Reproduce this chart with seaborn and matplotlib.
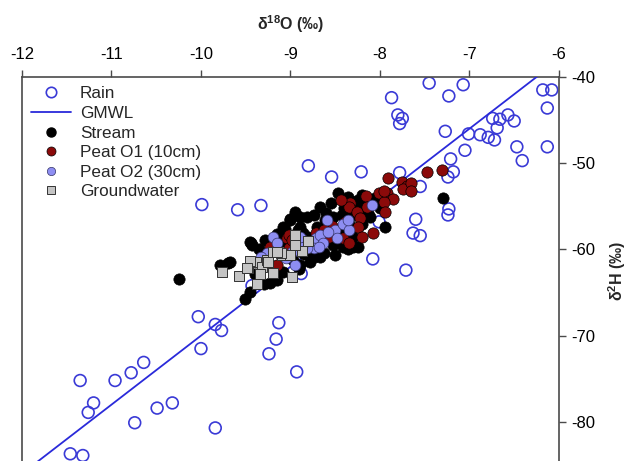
import matplotlib
matplotlib.use("Agg")
import matplotlib.pyplot as plt
import seaborn as sns
from matplotlib.lines import Line2D

# ---------------- data ----------------
rain_d18o = [-10.03, -9.84, -9.77, -10.00, -9.13, -9.16, -9.24, -8.93, -10.64, -10.78,
             -10.96, -11.35, -11.20, -11.26, -10.74, -10.49, -10.32, -9.84, -11.46, -11.32,
             -7.45, -7.07, -7.87, -7.23, -7.80, -7.75, -7.78, -6.18, -6.08, -6.13,
             -6.13, -7.27, -7.01, -6.88, -6.79, -6.72, -6.74, -6.66, -6.57, -6.50,
             -6.69, -6.47, -6.41, -7.05, -7.21, -7.18, -7.24, -7.78, -7.55, -7.23,
             -7.24, -7.60, -7.63, -7.55, -8.80, -8.54, -8.21, -9.99, -9.59, -9.33,
             -8.01, -8.08, -7.71, -8.88, -9.43]
rain_d2h = [-67.8, -68.7, -69.4, -71.5, -68.5, -70.4, -72.1, -74.2, -73.1, -74.3,
            -75.2, -75.2, -77.8, -78.9, -80.1, -78.4, -77.8, -80.7, -83.7, -83.9,
            -40.7, -40.9, -42.4, -42.2, -44.4, -44.8, -45.4, -41.5, -41.5, -43.6,
            -48.1, -46.3, -46.6, -46.7, -47.0, -47.3, -44.8, -44.9, -44.4, -45.1,
            -45.9, -48.1, -49.7, -48.5, -49.5, -51.0, -51.6, -51.1, -52.7, -55.3,
            -56.0, -56.5, -58.1, -58.4, -50.3, -51.6, -51.0, -54.8, -55.4, -54.9,
            -56.8, -61.1, -62.4, -62.8, -64.2]

gmwl_d18o = [-12.0, -6.0]
gmwl_d2h = [-86.0, -38.0]

stream_d18o = [-10.24, -9.79, -9.70, -9.68, -9.51, -9.45, -9.29, -9.44, -9.43, -9.45,
               -9.28, -9.06, -9.01, -9.08, -9.15, -9.23, -9.08, -8.89, -9.00, -8.89,
               -8.81, -8.74, -8.67, -8.55, -8.47, -8.36, -8.25, -8.28, -8.20, -8.22,
               -8.13, -8.11, -8.00, -7.94, -8.36, -8.25, -8.52, -8.63, -8.74, -8.92,
               -9.08, -8.86, -8.70, -8.61, -8.52, -8.42, -8.31, -8.19, -7.29, -8.41,
               -8.30, -8.67, -8.78, -8.89, -8.97, -9.20, -9.10, -9.00, -8.95, -8.85,
               -8.80, -8.70, -8.60, -8.55, -8.45, -8.35, -8.30, -8.20, -8.15, -8.05,
               -9.30, -9.35, -9.15, -8.95, -8.60, -8.40, -9.40, -9.20, -8.90, -8.50]
stream_d2h = [-63.4, -61.8, -61.6, -61.4, -65.8, -64.9, -64.0, -59.2, -59.5, -59.1,
              -58.9, -57.6, -56.5, -62.6, -63.5, -63.9, -57.7, -56.2, -56.6, -57.4,
              -56.2, -56.0, -55.1, -54.6, -53.4, -53.9, -54.3, -54.5, -53.7, -55.2,
              -55.8, -56.2, -55.2, -57.4, -60.0, -59.7, -59.5, -60.4, -60.9, -57.7,
              -57.4, -58.1, -57.4, -56.6, -56.2, -56.0, -56.0, -55.4, -54.0, -59.7,
              -59.7, -60.9, -61.4, -61.8, -61.2, -60.0, -59.0, -60.2, -59.3, -60.5,
              -58.6, -59.4, -58.4, -57.6, -58.0, -57.0, -58.6, -57.0, -54.6, -54.0,
              -61.0, -60.0, -58.2, -55.6, -55.8, -55.2, -62.8, -62.0, -62.3, -60.6]

peat_o1_d18o = [-7.91, -7.75, -7.70, -8.16, -8.01, -7.92, -7.85, -7.95, -7.94, -8.14,
                -8.33, -8.35, -8.43, -8.26, -8.22, -8.25, -8.08, -8.20, -8.41, -8.35,
                -8.54, -8.57, -8.72, -8.72, -9.04, -9.02, -8.39, -7.47, -7.31, -7.74,
                -7.65, -7.65, -7.96, -9.23, -9.15, -9.02, -8.98, -8.62]
peat_o1_d2h = [-51.7, -52.2, -52.7, -53.8, -53.4, -53.4, -54.1, -54.5, -55.6, -55.1,
               -54.6, -55.1, -54.3, -55.6, -56.3, -57.4, -58.1, -58.5, -58.7, -59.2,
               -57.3, -58.5, -58.1, -59.1, -58.7, -59.8, -56.8, -51.0, -50.8, -53.0,
               -52.3, -53.2, -53.2, -59.7, -61.8, -58.3, -58.9, -57.8]

peat_o2_d18o = [-9.19, -9.26, -9.33, -9.15, -8.95, -8.78, -8.72, -8.67, -8.59, -8.50,
                -8.48, -8.41, -8.35, -8.36, -8.58, -8.64, -8.74, -8.81, -8.68, -8.86,
                -8.87, -8.09, -8.89, -9.05, -8.98]
peat_o2_d2h = [-58.5, -60.4, -60.9, -59.2, -61.8, -59.1, -58.7, -58.3, -56.6, -57.7,
               -58.7, -57.1, -57.7, -56.6, -58.0, -59.2, -59.8, -59.8, -59.7, -58.9,
               -59.7, -54.8, -58.5, -61.0, -60.3]

gw_d18o = [-9.77, -9.58, -9.47, -9.39, -9.32, -9.20, -9.09, -8.98, -8.95, -9.00,
           -8.87, -8.80, -9.26, -9.34, -9.11, -9.19, -9.45, -9.48, -9.37, -9.15,
           -9.25, -8.95]
gw_d2h = [-62.6, -63.1, -62.1, -61.4, -62.0, -62.7, -60.6, -63.2, -58.3, -60.6,
          -60.2, -59.0, -61.2, -62.9, -60.4, -60.3, -61.3, -62.2, -64.0, -60.3,
          -61.4, -59.5]

x_ticks = [-12, -11, -10, -9, -8, -7, -6]
y_ticks = [-80, -70, -60, -50, -40]

# ---------------- styling ----------------
sns.set_theme(style="white")
plt.rcParams['font.family'] = ['Liberation Sans', 'DejaVu Sans']
plt.rcParams['mathtext.fontset'] = 'custom'
plt.rcParams['mathtext.rm'] = 'Liberation Sans:bold'
plt.rcParams['mathtext.it'] = 'Liberation Sans:bold'
plt.rcParams['mathtext.bf'] = 'Liberation Sans:bold'

C_RAIN = '#3a3ad6'
C_LINE = '#2a2ada'
C_O1 = '#8b0a0a'
C_O2 = '#8e8ef2'
C_GW = '#c4c4c4'
C_AX = '#4a4a4a'

fig = plt.figure(figsize=(6.28, 4.61), dpi=100)
ax = fig.add_axes([0.035, -0.0087, 0.855, 0.8417])

sns.scatterplot(x=rain_d18o, y=rain_d2h, ax=ax, marker='o', s=72,
                facecolor='none', edgecolor=C_RAIN, linewidth=1.2, zorder=2)
sns.lineplot(x=gmwl_d18o, y=gmwl_d2h, ax=ax, color=C_LINE, linewidth=1.3, zorder=3)
sns.scatterplot(x=stream_d18o, y=stream_d2h, ax=ax, marker='o', s=66,
                color='black', edgecolor='black', linewidth=0.5, zorder=4)
sns.scatterplot(x=peat_o1_d18o, y=peat_o1_d2h, ax=ax, marker='o', s=66,
                color=C_O1, edgecolor='black', linewidth=0.5, zorder=5)
sns.scatterplot(x=peat_o2_d18o, y=peat_o2_d2h, ax=ax, marker='o', s=60,
                color=C_O2, edgecolor='#333366', linewidth=0.5, zorder=6)
sns.scatterplot(x=gw_d18o, y=gw_d2h, ax=ax, marker='s', s=50,
                color=C_GW, edgecolor='#333333', linewidth=0.7, zorder=7)

ax.set_xlim(-12, -6)
ax.set_ylim(-85, -40)
ax.set_xticks(x_ticks)
ax.set_yticks(y_ticks)
ax.set_xticklabels([str(t) for t in x_ticks])
ax.set_yticklabels([str(t) for t in y_ticks])

ax.xaxis.tick_top()
ax.xaxis.set_label_position('top')
ax.yaxis.tick_right()
ax.yaxis.set_label_position('right')
ax.tick_params(axis='both', direction='out', length=5, width=1, color=C_AX,
               labelsize=12, labelcolor='black')
ax.tick_params(axis='x', pad=6)
ax.tick_params(axis='y', pad=4)

for side in ['top', 'left', 'right']:
    ax.spines[side].set_visible(True)
    ax.spines[side].set_color(C_AX)
    ax.spines[side].set_linewidth(1.2)
ax.spines['bottom'].set_visible(False)

ax.set_xlabel('δ$^{18}$O (‰)', fontsize=11.5, fontweight='bold', labelpad=12)
ax.set_ylabel('δ$^{2}$H (‰)', fontsize=11.5, fontweight='bold', labelpad=7.5)

handles = [
    Line2D([], [], linestyle='none', marker='o', markersize=7.5, markerfacecolor='none',
           markeredgecolor=C_RAIN, markeredgewidth=1.2),
    Line2D([], [], color=C_LINE, linewidth=1.3),
    Line2D([], [], linestyle='none', marker='o', markersize=6.5, markerfacecolor='black',
           markeredgecolor='black'),
    Line2D([], [], linestyle='none', marker='o', markersize=6.5, markerfacecolor=C_O1,
           markeredgecolor='black', markeredgewidth=0.5),
    Line2D([], [], linestyle='none', marker='o', markersize=6, markerfacecolor=C_O2,
           markeredgecolor='#333366', markeredgewidth=0.5),
    Line2D([], [], linestyle='none', marker='s', markersize=5.5, markerfacecolor=C_GW,
           markeredgecolor='#333333', markeredgewidth=0.7),
]
labels = ['Rain', 'GMWL', 'Stream', 'Peat O1 (10cm)', 'Peat O2 (30cm)', 'Groundwater']
ax.legend(handles, labels, loc='upper left', bbox_to_anchor=(0.0, 1.0), frameon=False,
          fontsize=12.3, labelspacing=0.27, handlelength=2.3, handletextpad=0.55,
          borderaxespad=0.25, borderpad=0.3)

fig.savefig('out.png', dpi=100)
